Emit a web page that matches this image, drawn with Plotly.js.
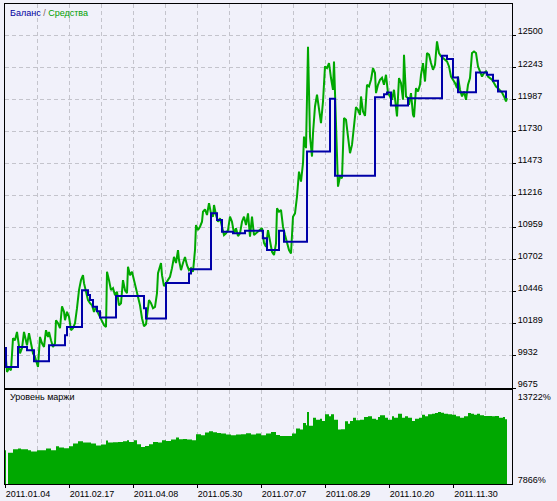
<!DOCTYPE html>
<html>
<head>
<meta charset="utf-8">
<script src="https://cdn.plot.ly/plotly-3.0.1.min.js"></script>
<style>html,body{margin:0;padding:0;background:#f1f1fa;}#chart{width:557px;height:501px;}</style>
</head>
<body>
<div id="chart"></div>
<script>
// x = bar position along the test period
const dateLabels = ['2011.01.04','2011.02.17','2011.04.08','2011.05.30','2011.07.07','2011.08.29','2011.10.20','2011.11.30'];
const dateBars = [5,69,133,197,261,325,389,453];

const balanceTicks = [9675,9932,10189,10446,10702,10959,11216,11473,11730,11987,12243,12500];
const marginTicks = [7866,13722];
const marginTickText = ['7866%','13722%'];

const equityX = [
 5,7,9,11,13,15,17,19,20,22,
 24,27,29,31,33,35,37,38,40,42,
 44,46,48,49,51,53,55,56,58,60,
 62,64,65,67,69,71,73,75,77,79,
 81,83,84,86,88,90,92,94,96,98,
 100,102,104,106,107,109,111,113,115,117,
 119,121,123,125,127,128,130,132,134,136,
 138,140,142,144,146,147,149,151,153,155,
 157,158,161,162,164,166,168,170,172,174,
 176,178,179,181,183,185,187,189,191,193,
 195,196,198,200,202,203,205,207,209,211,
 213,214,216,218,220,222,224,226,228,230,
 232,234,236,238,240,242,244,246,248,250,
 252,254,256,258,260,262,264,266,268,270,
 272,274,276,277,279,281,283,285,287,289,
 291,293,295,297,299,301,303,304,306,307,
 308,310,312,313,315,317,319,321,323,325,
 327,329,331,333,334,336,337,338,340,342,
 344,346,348,350,352,354,356,358,360,361,
 363,365,367,369,371,373,375,376,378,380,
 382,384,386,388,390,392,394,396,397,399,
 401,403,404,406,408,409,411,413,414,416,
 418,420,421,423,425,427,429,431,433,435,
 437,439,441,443,445,447,449,451,453,455,
 457,458,460,462,464,466,468,470,472,474,
 476,478,480,482,484,486,488,490,492,494,
 496,498,500,502,504,506,507];
const equity = [
 10001,9803,9833,9817,10074,10058,10124,9977,9953,9993,
 10124,10017,10114,10033,9953,9924,9857,9843,10084,10033,
 10004,10138,10084,10124,10058,10004,10033,10218,10194,10154,
 10330,10285,10218,10285,10245,10138,10154,10194,10314,10459,
 10539,10579,10515,10435,10379,10354,10338,10285,10325,10277,
 10245,10218,10178,10164,10606,10539,10459,10475,10419,10445,
 10338,10354,10539,10459,10435,10646,10579,10606,10539,10459,
 10403,10338,10234,10170,10186,10245,10379,10354,10314,10325,
 10435,10595,10676,10579,10491,10515,10539,10566,10635,10726,
 10676,10780,10700,10619,10676,10724,10659,10619,10635,10606,
 10780,10980,10940,10967,11007,11087,11106,11061,11155,11074,
 11047,11141,11061,11007,11034,10954,10900,10914,10940,11047,
 11007,10914,10954,10892,10914,11007,11047,10980,11074,10887,
 11047,10900,10914,10927,10940,10956,10836,10806,10940,10836,
 10766,10740,10834,11114,11087,11101,10967,10900,10834,10780,
 10753,11047,11074,11208,11408,11328,11476,11689,11596,11984,
 12409,11689,11529,11716,11930,12024,11903,11797,11970,12251,
 12238,12278,12158,12064,12291,11850,11663,11288,11368,11355,
 11837,11823,11689,11556,11622,11756,11925,11903,11863,12010,
 11890,11855,12104,12090,12144,12238,12198,12037,12104,12144,
 12160,12104,12184,12037,12010,11984,12064,11930,11850,12158,
 12118,11984,12345,12010,11997,11943,12037,11863,11845,12077,
 12050,12104,12184,12278,12130,12358,12345,12278,12224,12264,
 12451,12358,12331,12318,12304,12291,12251,12170,12144,12118,
 12077,12170,12064,12010,12050,11984,12104,12158,12358,12371,
 12358,12251,12211,12170,12198,12211,12170,12158,12144,12118,
 12090,12077,12058,12042,12010,11970,11997];

const balanceX = [5,6,18,27,34,49,65,67,82,88,90,93,97,100,116,144,146,166,189,191,211,217,222,233,245,263,267,279,284,307,330,335,375,384,387,391,408,442,447,453,458,476,487,493,498,506,507];
const balance = [9996,9843,10004,9977,9889,10017,10098,10164,10459,10419,10379,10325,10290,10240,10411,10314,10232,10517,10593,10627,11074,11021,10927,10914,10935,10874,10780,10935,10846,11569,11992,11376,12005,12029,12042,11938,11997,12337,12310,12163,12045,12203,12184,12136,12050,12005,12005];

const marginX = [5,6,8,13,18,21,28,31,37,46,51,56,59,64,69,73,78,83,91,96,101,106,108,113,118,123,127,129,134,137,141,145,149,153,158,162,166,171,176,179,183,187,192,196,201,205,209,213,217,221,226,231,236,241,246,251,256,261,266,271,276,280,292,296,300,303,306,307,309,313,316,320,322,325,329,331,334,338,341,345,348,350,353,356,360,364,368,372,376,378,380,385,388,392,394,398,402,405,408,412,415,419,422,425,428,432,435,438,441,444,448,452,456,460,464,468,471,474,477,480,484,488,492,495,499,503,505,507];
const marginLevel = [10236,7866,10048,10306,10355,10306,10236,10146,10236,10355,10236,10515,10424,10376,10515,10703,10864,10773,10703,10564,10634,10913,10773,10794,10815,10864,10933,10815,10933,10654,10466,10536,10654,10815,10773,10933,10884,10982,11121,11003,11024,10982,10933,11352,11282,11470,11561,11491,11442,11401,11331,11282,11331,11352,11421,11331,11401,11282,11401,11512,11300,11233,11400,11749,11679,12139,11979,12906,11944,12516,12376,12446,12279,12746,12606,12746,12376,11679,11700,12258,12097,12279,12516,12327,12376,12558,12606,12446,12376,12558,12676,12516,12376,12606,12516,12795,12516,12606,12516,12279,12446,12516,12725,12606,12746,12795,12836,12906,12864,12795,12746,12725,12606,12516,12606,12836,12795,12725,12795,12676,12627,12627,12606,12627,12516,12558,12397,12397];

const GREEN = '#00a800', BLUE = '#0000a8', BG = '#f1f1fa', GRID = '#c4c4cc';
const FONT = {family: 'Liberation Sans, Arial, sans-serif', size: 9, color: '#000'};

const traces = [
  {x: equityX, y: equity, type: 'scatter', mode: 'lines', xaxis: 'x', yaxis: 'y',
   line: {color: GREEN, width: 2}, hoverinfo: 'skip'},
  {x: balanceX, y: balance, type: 'scatter', mode: 'lines', xaxis: 'x', yaxis: 'y',
   line: {color: BLUE, width: 2, shape: 'hv'}, hoverinfo: 'skip'},
  {x: marginX, y: marginLevel, type: 'scatter', mode: 'lines', xaxis: 'x2', yaxis: 'y2',
   line: {color: GREEN, width: 0, shape: 'hv'}, fill: 'tozeroy', fillcolor: GREEN, hoverinfo: 'skip'}
];

const gridCommon = {showgrid: true, gridcolor: GRID, gridwidth: 1, griddash: '4px,3px',
  showline: true, mirror: true, linecolor: '#000', linewidth: 1, zeroline: false};

const layout = {
  width: 557, height: 501,
  margin: {l: 5, r: 45, t: 4, b: 17, pad: 0},
  paper_bgcolor: BG, plot_bgcolor: BG,
  showlegend: false,
  font: FONT,
  xaxis: Object.assign({}, gridCommon, {
    domain: [0, 1], anchor: 'y', range: [5, 512],
    tickmode: 'array', tickvals: dateBars, showticklabels: false, ticks: '',
    minor: {tick0: 5, dtick: 32, showgrid: true, gridcolor: GRID, gridwidth: 1, griddash: '4px,3px', ticks: ''}
  }),
  xaxis2: Object.assign({}, gridCommon, {
    domain: [0, 1], anchor: 'y2', range: [5, 512], matches: 'x',
    tickmode: 'array', tickvals: dateBars, ticktext: dateLabels,
    ticks: 'outside', ticklen: 3, tickcolor: '#000', ticklabelshift: 23, ticklabelstandoff: -2,
    tickfont: FONT,
    minor: {tick0: 5, dtick: 32, showgrid: true, gridcolor: GRID, gridwidth: 1, griddash: '4px,3px', ticks: ''}
  }),
  yaxis: Object.assign({}, gridCommon, {
    domain: [0.2, 1], anchor: 'x', side: 'right', range: [9675, 12751],
    tickmode: 'array', tickvals: balanceTicks, ticktext: balanceTicks.map(String),
    ticks: 'outside', ticklen: 3, tickcolor: '#000', ticklabelshift: -4, ticklabelstandoff: 0,
    tickfont: FONT
  }),
  yaxis2: Object.assign({}, gridCommon, {
    domain: [0, 0.1948], anchor: 'x2', side: 'right', range: [7866, 14419],
    showgrid: false,
    tickmode: 'array', tickvals: marginTicks, ticktext: marginTickText,
    ticks: '', ticklabelshift: -4, ticklabelstandoff: 3,
    tickfont: FONT
  }),
  annotations: [
    {xref: 'paper', yref: 'paper', x: 0.006, y: 0.995, xanchor: 'left', yanchor: 'top', showarrow: false,
     text: '<span style="color:#0000a0">Баланс</span><span style="color:#806060"> / </span><span style="color:#00a000">Средства</span>',
     font: {family: FONT.family, size: 9}},
    {xref: 'paper', yref: 'paper', x: 0.006, y: 0.196, xanchor: 'left', yanchor: 'top', showarrow: false,
     text: 'Уровень маржи', font: {family: FONT.family, size: 9, color: '#000'}}
  ]
};

Plotly.newPlot('chart', traces, layout, {staticPlot: true, displayModeBar: false});
</script>
</body>
</html>
